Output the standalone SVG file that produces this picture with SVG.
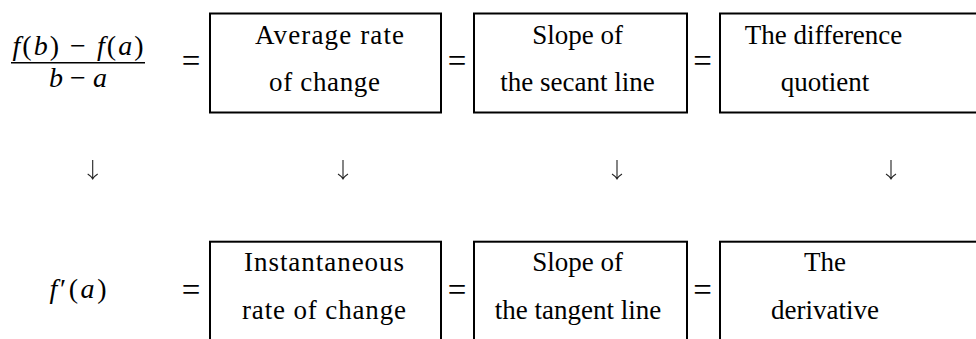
<svg xmlns="http://www.w3.org/2000/svg" width="976" height="339" viewBox="0 0 976 339">
<style>
  text { font-family: "Liberation Serif", "Times New Roman", serif; fill: #000; }
  .lbl { font-size: 27px; text-anchor: middle; }
  .math { font-size: 28px; text-anchor: middle; }
  .eq { font-size: 33px; text-anchor: middle; }
  .it { font-style: italic; }
  .box { fill: #fff; stroke: #000; stroke-width: 2; }
  .arr { fill: none; stroke: #222; stroke-width: 1.1; }
</style>
<rect width="976" height="339" fill="#fff"/>

<g id="diff-quotient-formula">
  <text class="math" x="78" y="55" textLength="131" lengthAdjust="spacing"><tspan class="it">f</tspan>(<tspan class="it">b</tspan>) − <tspan class="it">f</tspan>(<tspan class="it">a</tspan>)</text>
  <line x1="11" y1="62.7" x2="145" y2="62.7" stroke="#000" stroke-width="1.6"/>
  <text class="math" x="78" y="87"><tspan class="it">b</tspan> − <tspan class="it">a</tspan></text>
</g>
<g id="eq-top">
  <text class="eq" x="191" y="72">=</text>
  <text class="eq" x="457" y="72">=</text>
  <text class="eq" x="702.5" y="72">=</text>
</g>
<g id="avg-rate">
  <rect class="box" x="210" y="13.5" width="231" height="99"/>
  <text class="lbl" x="329.5" y="44" textLength="149" lengthAdjust="spacing">Average rate</text>
  <text class="lbl" x="324.5" y="91" textLength="111" lengthAdjust="spacing">of change</text>
</g>
<g id="secant-slope">
  <rect class="box" x="474" y="13.5" width="213" height="99"/>
  <text class="lbl" x="577.5" y="44">Slope of</text>
  <text class="lbl" x="577.5" y="91">the secant line</text>
</g>
<g id="difference-quotient">
  <rect class="box" x="720" y="13.5" width="270" height="99"/>
  <text class="lbl" x="823.5" y="44">The difference</text>
  <text class="lbl" x="825" y="91">quotient</text>
</g>

<g id="connectors">
  <path class="arr" d="M92.7 160 V179 M87.7 174 Q91 176 92.7 179 Q94.4 176 97.7 174"/>
  <path class="arr" d="M343 160 V179 M338 174 Q341.3 176 343 179 Q344.7 176 348 174"/>
  <path class="arr" d="M617 160 V179 M612 174 Q615.3 176 617 179 Q618.7 176 622 174"/>
  <path class="arr" d="M891 160 V179 M886 174 Q889.3 176 891 179 Q892.7 176 896 174"/>
</g>

<g id="derivative-notation">
  <text class="math" x="78" y="298" textLength="57" lengthAdjust="spacing"><tspan class="it">f</tspan>′(<tspan class="it">a</tspan>)</text>
</g>
<g id="eq-bottom">
  <text class="eq" x="191" y="300.5">=</text>
  <text class="eq" x="457" y="300.5">=</text>
  <text class="eq" x="702.5" y="300.5">=</text>
</g>
<g id="instant-rate">
  <rect class="box" x="210" y="241.7" width="231" height="110"/>
  <text class="lbl" x="324" y="271" textLength="160" lengthAdjust="spacing">Instantaneous</text>
  <text class="lbl" x="324" y="319" textLength="164" lengthAdjust="spacing">rate of change</text>
</g>
<g id="tangent-slope">
  <rect class="box" x="474" y="241.7" width="213" height="110"/>
  <text class="lbl" x="577.5" y="271">Slope of</text>
  <text class="lbl" x="578" y="319">the tangent line</text>
</g>
<g id="the-derivative">
  <rect class="box" x="720" y="241.7" width="270" height="110"/>
  <text class="lbl" x="825" y="271">The</text>
  <text class="lbl" x="825" y="319">derivative</text>
</g>
</svg>
